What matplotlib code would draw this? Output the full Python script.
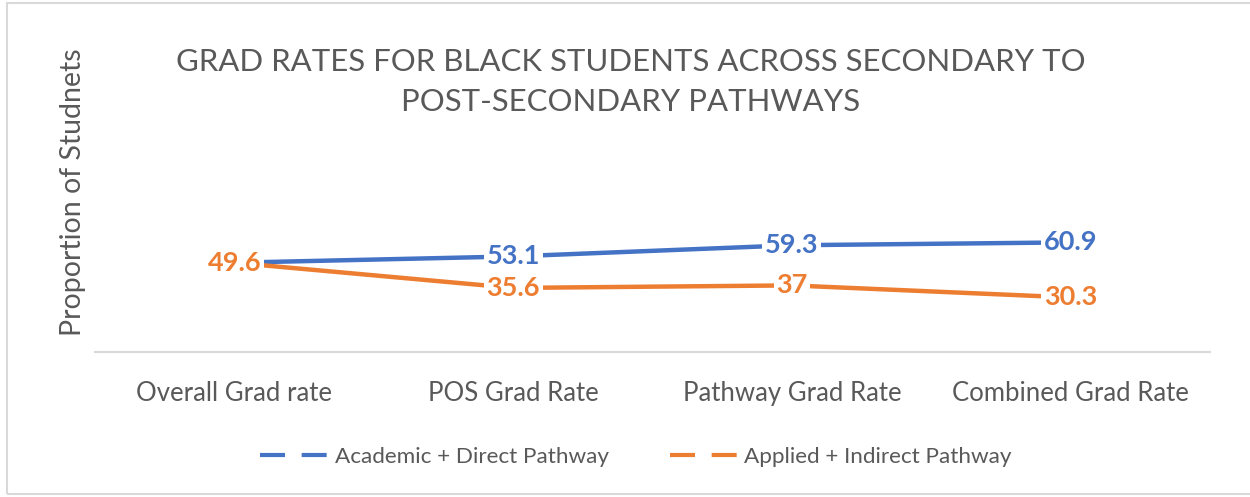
import matplotlib
matplotlib.use("Agg")
import matplotlib.pyplot as plt
from matplotlib.lines import Line2D
from matplotlib.patches import Rectangle

categories = ["Overall Grad rate", "POS Grad Rate", "Pathway Grad Rate", "Combined Grad Rate"]
academic = [49.6, 53.1, 59.3, 60.9]
applied = [49.6, 35.6, 37, 30.3]
series_names = ["Academic + Direct Pathway", "Applied + Indirect Pathway"]
title = "GRAD RATES FOR BLACK STUDENTS ACROSS SECONDARY TO\nPOST-SECONDARY PATHWAYS"
ylabel = "Proportion of Studnets"

BLUE = "#4472C4"
ORANGE = "#ED7D31"
GRAY = "#595959"
FONT = ["Lato", "DejaVu Sans"]
plt.rcParams["font.family"] = FONT

W, H = 1250, 497
fig = plt.figure(figsize=(W / 100, H / 100), dpi=100)
fig.patch.set_facecolor("white")

# outer chart border
fig.patches.append(Rectangle((7 / W, 3 / H), 1.2, (494 - 3) / H, transform=fig.transFigure,
                             fill=False, edgecolor="#D9D9D9", linewidth=1.5))

left, right = 95 / W, 1210 / W
bottom, top = 1 - 352 / H, 1 - 172 / H
ax = fig.add_axes([left, bottom, right - left, top - bottom])
ax.set_facecolor("none")

x = list(range(len(categories)))
ax.plot(x, academic, color=BLUE, linewidth=3.2, solid_capstyle="butt", zorder=2)
ax.plot(x, applied, color=ORANGE, linewidth=3.2, solid_capstyle="butt", zorder=2)

def fmt(v):
    return f"{v:g}"

for xi, v in zip(x, academic):
    if xi == 0:
        continue
    ax.text(xi, v, fmt(v), color=BLUE, fontsize=19.5, fontweight="bold", ha="center", va="center",
            zorder=3, bbox=dict(boxstyle="square,pad=0.1", fc="white", ec="none"))
for xi, v in zip(x, applied):
    ax.text(xi, v, fmt(v), color=ORANGE, fontsize=19.5, fontweight="bold", ha="center", va="center",
            zorder=4, bbox=dict(boxstyle="square,pad=0.1", fc="white", ec="none"))

ax.set_xlim(-0.5, len(categories) - 0.5)
ax.set_ylim(0, 100)
ax.set_yticks([])
ax.set_xticks(x)
ax.set_xticklabels(categories, fontsize=18.5, color=GRAY)
ax.tick_params(axis="x", length=0, pad=21)
for s in ["top", "right", "left"]:
    ax.spines[s].set_visible(False)
ax.spines["bottom"].set_color("#D9D9D9")
ax.spines["bottom"].set_linewidth(1.5)

fig.text(73 / W, 1 - 192 / H, ylabel, rotation=90, fontsize=20.5, color=GRAY, ha="center", va="center")
fig.text(631 / W, 1 - 82 / H, title, fontsize=22.4, color=GRAY, ha="center", va="center",
         linespacing=1.55)

handles = [Line2D([0], [0], color=BLUE, linewidth=3, linestyle=(0, (6, 4))),
           Line2D([0], [0], color=ORANGE, linewidth=3, linestyle=(0, (6, 4)))]
fig.legend(handles, series_names, loc="center", bbox_to_anchor=(636 / W, 1 - 457 / H),
           ncol=2, frameon=False, fontsize=16.2, labelcolor=GRAY, handlelength=3.1,
           handletextpad=0.22, columnspacing=2.7)

fig.savefig("out.png", dpi=100, facecolor="white")
